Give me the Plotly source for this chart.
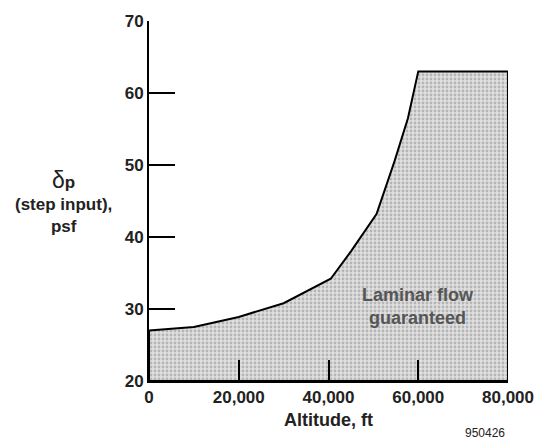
import plotly.graph_objects as go

# Boundary of the guaranteed-laminar-flow region: step-input pressure (psf) vs altitude (ft)
altitude_ft = [0, 10000, 20000, 30000, 40500, 45000, 50700, 54700, 57700, 60000, 80000]
delta_p_psf = [27.0, 27.5, 28.9, 30.8, 34.2, 38.0, 43.2, 50.5, 56.5, 63.0, 63.0]

x_ticks = [0, 20000, 40000, 60000, 80000]
y_ticks = [20, 30, 40, 50, 60, 70]

# Close the shaded region down to the bottom of the chart
poly_x = altitude_ft + [80000, 0, 0]
poly_y = delta_p_psf + [20, 20, delta_p_psf[0]]

FONT = "Liberation Sans, Arial, Helvetica, sans-serif"
PLOT_L, PLOT_B, PLOT_W, PLOT_H = 149, 381, 362, 362


def px(xp, yp):
    """Pixel position -> paper coordinates of the plotting area."""
    return (xp - PLOT_L) / PLOT_W, (PLOT_B - yp) / PLOT_H


fig = go.Figure()
fig.add_trace(go.Scatter(
    x=poly_x, y=poly_y, mode="lines", fill="toself",
    fillcolor="#d6d6d6",
    fillpattern=dict(shape=".", bgcolor="#e0e0e0", fgcolor="#8a8a8a", size=4, solidity=0.4),
    line=dict(color="black", width=2),
    hoverinfo="skip", showlegend=False,
))

fig.update_layout(
    width=546, height=441,
    margin=dict(l=149, r=35, t=19, b=60),
    paper_bgcolor="white", plot_bgcolor="white",
    font=dict(family=FONT, color="#222"),
    showlegend=False,
)
fig.update_xaxes(
    range=[0, 80000], tickvals=x_ticks, tickformat=",d",
    showgrid=False, zeroline=False,
    showline=True, linecolor="black", linewidth=2,
    ticks="inside", ticklen=21, tickwidth=1.5, tickcolor="black",
    tickfont=dict(family=FONT, size=17, weight="bold", color="#222"),
)
fig.update_yaxes(
    range=[20, 70], tickvals=y_ticks,
    showgrid=False, zeroline=False,
    showline=True, linecolor="black", linewidth=2,
    ticks="inside", ticklen=26, tickwidth=1.5, tickcolor="black",
    tickfont=dict(family=FONT, size=17, weight="bold", color="#222"),
)

ax, ay = px(330, 420)
fig.add_annotation(text="<b>Altitude, ft</b>", xref="paper", yref="paper",
                   x=ax, y=ay, xanchor="center", yanchor="middle", showarrow=False,
                   font=dict(family=FONT, size=18, color="#222"))
nx, ny = px(488, 433)
fig.add_annotation(text="950426", xref="paper", yref="paper",
                   x=nx, y=ny, xanchor="center", yanchor="middle", showarrow=False,
                   font=dict(family=FONT, size=12, color="#222"))
tx, ty = px(63, 200)
fig.add_annotation(text="<span style='font-size:23px'>δ</span><b>p</b><br><b>(step input),</b><br><b>psf</b>",
                   xref="paper", yref="paper",
                   x=tx, y=ty, xanchor="center", yanchor="middle", showarrow=False,
                   align="center", font=dict(family=FONT, size=17, color="#222"))
fig.add_annotation(text="<b>Laminar flow<br>guaranteed</b>", x=60000, y=30.4,
                   xanchor="center", yanchor="middle",
                   showarrow=False, align="center",
                   font=dict(family=FONT, size=18, color="#555"))

fig.write_html("out.html")
